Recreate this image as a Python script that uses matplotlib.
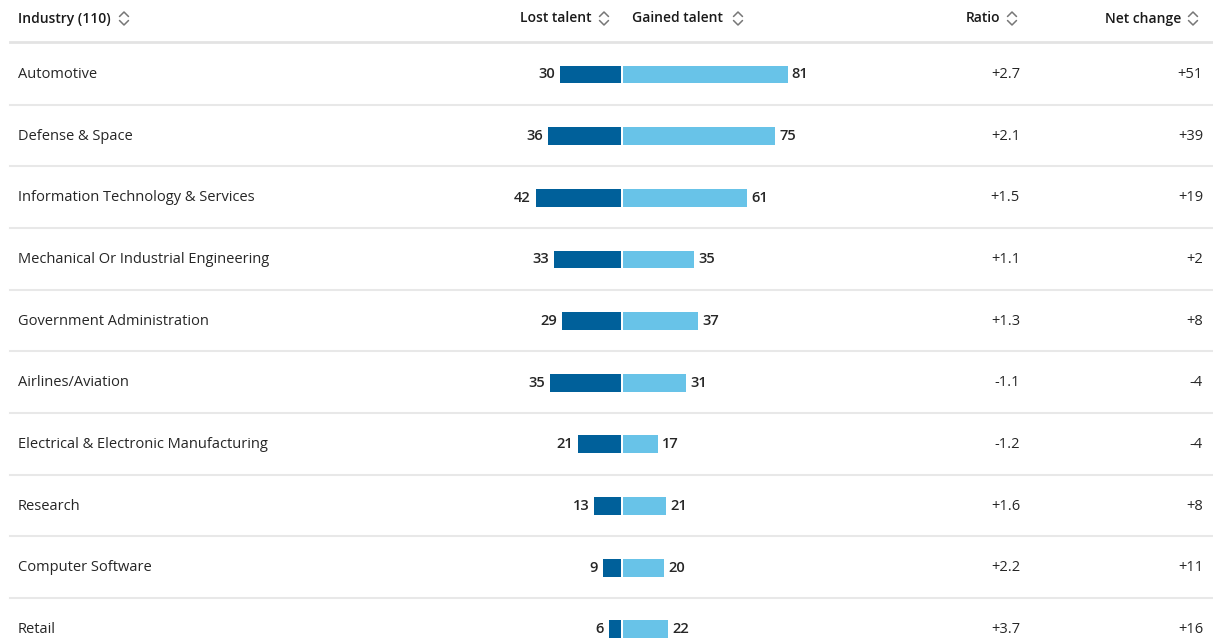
import matplotlib.pyplot as plt
import numpy as np

plt.rcParams['font.family'] = ['Open Sans', 'DejaVu Sans']

industries = ['Automotive', 'Defense & Space', 'Information Technology & Services',
              'Mechanical Or Industrial Engineering', 'Government Administration',
              'Airlines/Aviation', 'Electrical & Electronic Manufacturing',
              'Research', 'Computer Software', 'Retail']
lost = [30, 36, 42, 33, 29, 35, 21, 13, 9, 6]
gained = [81, 75, 61, 35, 37, 31, 17, 21, 20, 22]
ratio = ['+2.7', '+2.1', '+1.5', '+1.1', '+1.3', '-1.1', '-1.2', '+1.6', '+2.2', '+3.7']
net = ['+51', '+39', '+19', '+2', '+8', '-4', '-4', '+8', '+11', '+16']
headers = ['Industry (110)', 'Lost talent', 'Gained talent', 'Ratio', 'Net change']

W, H = 1213, 639
fig = plt.figure(figsize=(W / 100, H / 100), dpi=100)

# bar axes: value units horizontally, row index vertically
center_px, px_per_unit = 622, 2.03
row0_px, row_px = 74.5, 61.65
ax = fig.add_axes([0, 0, 1, 1])
ax.set_xlim(-center_px / px_per_unit, (W - center_px) / px_per_unit)
ax.set_ylim((H - row0_px) / row_px, -row0_px / row_px)
ax.axis('off')

# pixel overlay for text and rules
pa = fig.add_axes([0, 0, 1, 1], zorder=-1)
pa.set_xlim(0, W)
pa.set_ylim(H, 0)
pa.axis('off')

dark = '#00609a'
light = '#68c3e8'
txt = '#262626'

y = np.arange(len(industries))
ax.barh(y, [-v for v in lost], left=-0.6, height=0.29, color=dark)
ax.barh(y, gained, left=0.6, height=0.29, color=light)

for i in range(len(industries)):
    ax.annotate(str(lost[i]), (-0.6 - lost[i], i), xytext=(-3.5, 0), textcoords='offset points',
                ha='right', va='center', fontsize=10.5, color=txt, fontweight='semibold')
    ax.annotate(str(gained[i]), (0.6 + gained[i], i), xytext=(3, 0), textcoords='offset points',
                ha='left', va='center', fontsize=10.5, color=txt, fontweight='semibold')
    yp = row0_px + i * row_px
    pa.text(18, yp, industries[i], ha='left', va='center', fontsize=10.5, color=txt)
    pa.text(1020, yp, ratio[i], ha='right', va='center', fontsize=10.5, color=txt)
    pa.text(1203, yp, net[i], ha='right', va='center', fontsize=10.5, color=txt)
    if i < len(industries) - 1:
        pa.plot([10, W], [yp - 0.5 + row_px / 2] * 2, color='#e8e8e8', lw=1.5)

pa.plot([10, W], [42, 42], color='#e3e3e3', lw=2)


def sort_icon(x, yc):
    for s in (-1, 1):
        pa.plot([x - 4.5, x, x + 4.5], [yc + 2 * s, yc + 6.5 * s, yc + 2 * s],
                color='#777777', lw=1.1, solid_capstyle='round', solid_joinstyle='round')


hy = 18.5
hdr = dict(va='center', fontsize=10, color='#1a1a1a', fontweight='semibold')
pa.text(18, hy, headers[0], ha='left', **hdr)
sort_icon(124, hy)
pa.text(592, hy, headers[1], ha='right', **hdr)
sort_icon(604, hy)
pa.text(632, hy, headers[2], ha='left', **hdr)
sort_icon(738, hy)
pa.text(1000, hy, headers[3], ha='right', **hdr)
sort_icon(1012, hy)
pa.text(1181, hy, headers[4], ha='right', **hdr)
sort_icon(1193, hy)

fig.savefig('out.png', dpi=100, facecolor='white')
